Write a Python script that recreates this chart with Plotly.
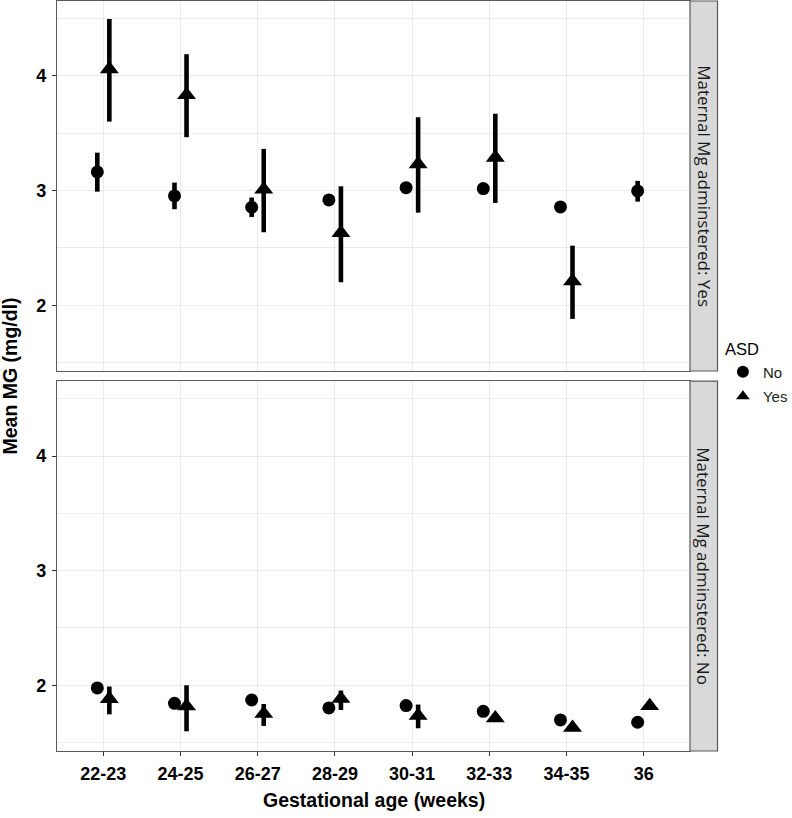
import plotly.graph_objects as go

categories = ["22-23", "24-25", "26-27", "28-29", "30-31", "32-33", "34-35", "36"]
y_ticks = [2, 3, 4]

# Panel 1: Maternal Mg adminstered: Yes
p1_no_mean = [3.163, 2.954, 2.855, 2.919, 3.026, 3.018, 2.858, 2.997]
p1_no_low = [2.991, 2.838, 2.770, 2.890, 3.000, 2.995, 2.835, 2.904]
p1_no_high = [3.331, 3.070, 2.940, 2.950, 3.050, 3.040, 2.880, 3.085]
p1_yes_mean = [4.060, 3.835, 3.010, 2.632, 3.232, 3.288, 2.210]
p1_yes_low = [3.602, 3.466, 2.637, 2.201, 2.808, 2.893, 1.881]
p1_yes_high = [4.497, 4.190, 3.364, 3.038, 3.640, 3.671, 2.520]

# Panel 2: Maternal Mg adminstered: No
p2_no_mean = [1.977, 1.843, 1.872, 1.803, 1.823, 1.773, 1.698, 1.678]
p2_no_low = [1.960, 1.825, 1.855, 1.785, 1.805, 1.755, 1.680, 1.660]
p2_no_high = [1.995, 1.860, 1.890, 1.820, 1.840, 1.790, 1.715, 1.695]
p2_yes_mean = [1.882, 1.818, 1.752, 1.883, 1.735, 1.713, 1.630, 1.820]
p2_yes_low = [1.747, 1.599, 1.646, 1.785, 1.625, 1.680, 1.600, 1.790]
p2_yes_high = [1.989, 2.000, 1.837, 1.954, 1.832, 1.745, 1.660, 1.850]

strip_labels = ["Maternal Mg adminstered: Yes", "Maternal Mg adminstered: No"]
legend_labels = ["No", "Yes"]

DODGE = 0.078
GRID = "#ebebeb"
BORDER = "#5a5a5a"


def xs(n, off):
    return [i + 1 + off for i in range(n)]


def pt_trace(mean, low, high, off, symbol, size, name, xa, ya, showlegend):
    return go.Scatter(
        x=xs(len(mean), off), y=mean, mode="markers", name=name,
        legendgroup=name, showlegend=showlegend,
        marker=dict(symbol=symbol, size=size, color="black"),
        error_y=dict(type="data", symmetric=False,
                     array=[h - m for h, m in zip(high, mean)],
                     arrayminus=[m - l for m, l in zip(mean, low)],
                     thickness=4.6, width=0, color="black"),
        xaxis=xa, yaxis=ya,
    )


fig = go.Figure()
fig.add_trace(pt_trace(p1_no_mean, p1_no_low, p1_no_high, -DODGE, "circle", 13, legend_labels[0], "x", "y", True))
fig.add_trace(pt_trace(p1_yes_mean, p1_yes_low, p1_yes_high, DODGE, "triangle-up", 16.5, legend_labels[1], "x", "y", True))
fig.add_trace(pt_trace(p2_no_mean, p2_no_low, p2_no_high, -DODGE, "circle", 13, legend_labels[0], "x2", "y2", False))
fig.add_trace(pt_trace(p2_yes_mean, p2_yes_low, p2_yes_high, DODGE, "triangle-up", 16.5, legend_labels[1], "x2", "y2", False))

bold = dict(family="Liberation Sans", size=18, color="black", weight="bold")
bold_title = dict(family="Liberation Sans", size=19.5, color="black", weight="bold")
yrange = [1.427, 4.654]
top_dom = [0.5067, 1.0]
bot_dom = [0.0, 0.4933]

common_x = dict(range=[0.4, 8.6], tickvals=list(range(1, len(categories) + 1)),
                ticktext=categories, showgrid=True, gridcolor=GRID, gridwidth=1,
                zeroline=False, showline=True, mirror=True, linecolor=BORDER, linewidth=1.2)
common_y = dict(range=yrange, tickvals=y_ticks, showgrid=True, gridcolor=GRID, gridwidth=1,
                minor=dict(dtick=0.5, tick0=0, showgrid=True, gridcolor=GRID, gridwidth=0.6),
                zeroline=False, showline=True, mirror=True, linecolor=BORDER, linewidth=1.2,
                ticks="outside", ticklen=4, tickcolor="#333333", tickfont=bold,
                ticklabelstandoff=2)

fig.update_layout(
    width=792, height=818,
    margin=dict(l=57, r=102, t=1, b=67, autoexpand=False),
    paper_bgcolor="white", plot_bgcolor="white",
    xaxis=dict(**common_x, anchor="y", domain=[0, 1], showticklabels=False, ticks="", matches="x2"),
    xaxis2=dict(**common_x, anchor="y2", domain=[0, 1], ticks="outside", ticklen=4,
                tickcolor="#333333", tickfont=bold, ticklabelstandoff=2),
    yaxis=dict(**common_y, anchor="x", domain=top_dom),
    yaxis2=dict(**common_y, anchor="x2", domain=bot_dom),
    legend=dict(title=dict(text="ASD", font=dict(family="Liberation Sans", size=16.5, color="black")),
                font=dict(family="Liberation Sans", size=15, color="#1a1a1a"),
                x=1.052, xanchor="left", y=0.556, yanchor="top", bgcolor="rgba(0,0,0,0)",
                tracegroupgap=2, itemsizing="constant"),
    showlegend=True,
)

# Facet strips
strip_x0, strip_x1 = 1.0, 1.0 + 27.5 / 633
for dom, label in zip([top_dom, bot_dom], strip_labels):
    fig.add_shape(type="rect", xref="paper", yref="paper", x0=strip_x0, x1=strip_x1,
                  y0=dom[0], y1=dom[1], fillcolor="#d9d9d9",
                  line=dict(color=BORDER, width=1.2), layer="above")
    fig.add_annotation(xref="paper", yref="paper", x=(strip_x0 + strip_x1) / 2,
                       y=(dom[0] + dom[1]) / 2, xanchor="center", yanchor="middle",
                       text=label, textangle=90, showarrow=False,
                       font=dict(family="Open Sans", size=17, color="#1a1a1a"))

# Axis titles
fig.add_annotation(xref="paper", yref="paper", x=0.5, y=-0.0655, xanchor="center", yanchor="middle",
                   text="Gestational age (weeks)", showarrow=False, font=bold_title)
fig.add_annotation(xref="paper", yref="paper", x=-0.0735, y=0.5, xanchor="center", yanchor="middle",
                   text="Mean MG (mg/dl)", textangle=-90, showarrow=False, font=bold_title)

fig.write_html("out.html", config={"displayModeBar": False},
               post_script="document.body.style.margin='0';")
